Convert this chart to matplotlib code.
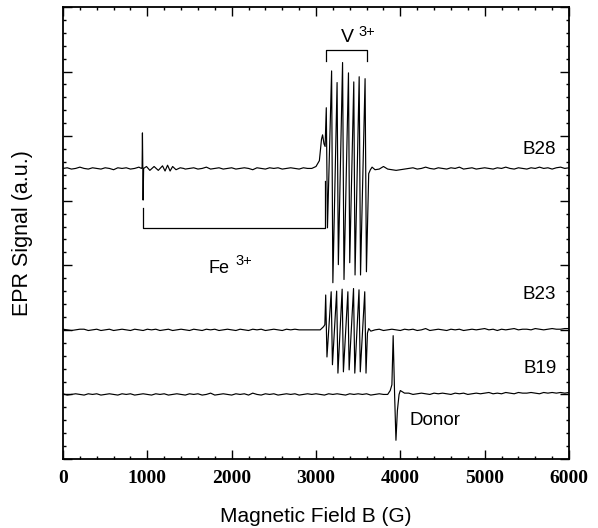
import numpy as np
import matplotlib
matplotlib.use('Agg')
import matplotlib.pyplot as plt
from matplotlib.ticker import MultipleLocator

# field grid for the noisy baselines (G), one value every 50 G
grid_step = 50

# B28 trace: baseline level and small noise offsets
b28_base = 4.5
b28_off = [0.00, 0.01, -0.01, 0.00, 0.02, 0.00, -0.01, 0.01, 0.00, -0.01,
           0.01, 0.00, -0.02, 0.01, 0.00, 0.01, -0.01, 0.00, 0.02, -0.01,
           0.00, 0.02, -0.01, 0.01, 0.00, -0.02, 0.01, 0.00, 0.01, -0.01,
           0.00, 0.01, -0.01, 0.00, 0.02, -0.01, 0.00, 0.01, -0.01, 0.00,
           0.01, -0.01, 0.00, 0.01, 0.00, -0.02, 0.01, 0.00, -0.01, 0.01,
           0.00, 0.01, -0.01, 0.00, 0.01, 0.00, -0.01, 0.01, 0.00, 0.01,
           0.00, 0.00, 0.00, 0.00, 0.00, 0.00, 0.00, 0.00, 0.00, 0.00,
           0.00, 0.00, 0.00, 0.00, -0.02, -0.01, 0.03, -0.01, -0.02, -0.03,
           -0.02, -0.01, 0.00, 0.01, -0.01, 0.00, 0.02, 0.00, -0.01, 0.01,
           0.00, -0.01, 0.01, 0.00, 0.02, -0.01, 0.00, 0.01, -0.01, 0.00,
           0.01, 0.00, -0.01, 0.01, 0.00, 0.02, 0.00, -0.01, 0.01, 0.00,
           -0.01, 0.01, 0.00, 0.02, 0.00, 0.01, -0.01, 0.01, 0.02, 0.00,
           0.01]
# Fe3+ line near 950 G
b28_fe_x = [930, 938, 942, 946, 950, 956, 990, 1030, 1080, 1130, 1180,
            1210, 1240, 1270, 1300, 1340, 1390, 1430]
b28_fe_y = [4.50, 4.52, 5.05, 4.48, 4.01, 4.50, 4.53, 4.47, 4.53, 4.47,
            4.54, 4.46, 4.55, 4.46, 4.53, 4.48, 4.51, 4.50]
# V3+ hyperfine comb
b28_v_x = [2950, 3000, 3040, 3065, 3078, 3095, 3108,
           3122, 3136, 3185, 3200, 3250, 3265, 3315, 3332,
           3385, 3400, 3448, 3463, 3512, 3528, 3582, 3598,
           3625, 3645, 3665]
b28_v_y = [4.50, 4.53, 4.62, 4.95, 5.02, 4.88, 4.84,
           5.44, 3.58, 6.01, 2.73, 5.83, 3.01, 6.14, 2.78,
           5.98, 3.04, 5.84, 2.85, 5.92, 2.85, 5.89, 2.90,
           4.42, 4.48, 4.52]

# B23 trace
b23_base = 2.0
b23_off = [0.01, 0.00, -0.01, 0.00, 0.01, 0.01, -0.01, 0.00, 0.01, -0.01,
           0.00, 0.01, -0.01, 0.00, 0.01, 0.00, -0.01, 0.01, 0.00, -0.01,
           0.01, 0.00, 0.01, -0.01, 0.00, 0.01, -0.01, 0.00, 0.01, 0.00,
           -0.01, 0.01, 0.00, -0.01, 0.01, 0.00, 0.01, -0.01, 0.00, 0.01,
           0.00, -0.01, 0.01, 0.00, -0.01, 0.01, 0.00, 0.01, -0.01, 0.00,
           0.01, 0.00, -0.01, 0.01, 0.00, 0.01, 0.00, 0.00, 0.00, 0.00,
           0.00, 0.00, 0.00, 0.00, 0.00, 0.00, 0.00, 0.00, 0.00, 0.00,
           0.00, 0.00, 0.00, 0.00, 0.00, 0.01, -0.01, 0.00, 0.01, 0.00,
           -0.01, 0.01, 0.00, 0.01, -0.01, 0.00, 0.02, -0.01, 0.00, 0.01,
           0.00, -0.01, 0.01, 0.00, 0.01, -0.01, 0.00, 0.01, 0.00, 0.01,
           0.02, 0.00, 0.01, -0.01, 0.01, 0.00, 0.01, 0.02, 0.00, 0.01,
           0.01, 0.00, 0.02, 0.01, 0.00, 0.01, 0.02, 0.01, 0.01, 0.02,
           0.02]
b23_v_x = [3050, 3090, 3105,
           3115, 3130, 3180, 3195, 3245, 3260, 3310, 3325,
           3378, 3393, 3445, 3460, 3510, 3525, 3578, 3593,
           3610, 3625, 3650, 3700]
b23_v_y = [2.00, 2.05, 2.08,
           2.54, 1.58, 2.59, 1.46, 2.60, 1.33, 2.63, 1.35,
           2.59, 1.38, 2.64, 1.33, 2.62, 1.35, 2.59, 1.33,
           1.95, 2.02, 1.98, 2.00]

# B19 trace
b19_base = 1.0
b19_off = [0.01, -0.01, 0.00, 0.01, 0.00, -0.01, 0.01, 0.00, 0.01, -0.01,
           0.00, 0.01, 0.00, -0.01, 0.01, 0.00, 0.01, -0.01, 0.00, 0.01,
           0.00, -0.01, 0.01, 0.00, 0.01, -0.01, 0.00, 0.01, 0.00, -0.01,
           0.01, 0.00, 0.01, -0.01, 0.00, 0.02, -0.01, 0.00, 0.01, 0.00,
           -0.01, 0.01, 0.00, 0.01, -0.01, 0.02, 0.00, -0.01, 0.01, 0.00,
           0.01, -0.01, 0.00, 0.01, 0.00, 0.01, -0.01, 0.00, 0.01, 0.00,
           0.01, 0.00, -0.01, 0.01, 0.00, 0.01, 0.00, -0.01, 0.01, 0.00,
           0.01, 0.00, 0.01, -0.01, 0.00, 0.01, 0.00, 0.01, 0.00, 0.00,
           0.00, 0.01, 0.02, 0.00, 0.01, 0.02, 0.01, 0.00, 0.02, 0.01,
           0.02, 0.01, 0.00, 0.02, 0.01, 0.02, 0.00, 0.01, 0.02, 0.01,
           0.02, 0.03, 0.01, 0.02, 0.01, 0.03, 0.02, 0.01, 0.03, 0.02,
           0.02, 0.03, 0.02, 0.01, 0.03, 0.02, 0.03, 0.02, 0.03, 0.02,
           0.03]
b19_don_x = [3850, 3880, 3900, 3915, 3932, 3948, 3965, 3985, 4000, 4050]
b19_don_y = [1.00, 1.06, 1.15, 1.91, 1.00, 0.29, 0.75, 1.00, 1.06, 1.02]


def build(base, offsets, segments):
    x = np.arange(0, 6001, grid_step)
    y = base + np.array(offsets)
    keep = np.ones(len(x), dtype=bool)
    for sx, sy in segments:
        keep &= ~((x >= min(sx)) & (x <= max(sx)))
    X = np.concatenate([x[keep]] + [np.array(sx) for sx, sy in segments])
    Y = np.concatenate([y[keep]] + [np.array(sy) for sx, sy in segments])
    order = np.argsort(X, kind='stable')
    return X[order], Y[order]


sans = 'Liberation Sans'

fig = plt.figure(figsize=(5.98, 5.28), dpi=100)
ax = fig.add_axes([63 / 598, 1 - 459 / 528, (569 - 63) / 598, (459 - 7) / 528])

for base, off, segs in [(b28_base, b28_off, [(b28_fe_x, b28_fe_y), (b28_v_x, b28_v_y)]),
                        (b23_base, b23_off, [(b23_v_x, b23_v_y)]),
                        (b19_base, b19_off, [(b19_don_x, b19_don_y)])]:
    X, Y = build(base, off, segs)
    ax.plot(X, Y, color='k', lw=0.85)

# brackets
ax.plot([947, 947, 3112, 3112], [3.88, 3.58, 3.58, 4.3], color='k', lw=0.9)
ax.plot([3120, 3120, 3605, 3605], [6.16, 6.34, 6.34, 6.16], color='k', lw=0.9)

ax.text(3375, 6.53, 'V', fontsize=14, family=sans, ha='center', va='center')
ax.text(3598, 6.62, '3+', fontsize=10.5, family=sans, ha='center', va='center')
ax.text(1852, 2.95, 'Fe', fontsize=13, family=sans, ha='center', va='center')
ax.text(2142, 3.07, '3+', fontsize=10.5, family=sans, ha='center', va='center')
ax.text(5850, 4.79, 'B28', fontsize=13.5, family=sans, ha='right', va='center')
ax.text(5850, 2.54, 'B23', fontsize=13.5, family=sans, ha='right', va='center')
ax.text(5850, 1.40, 'B19', fontsize=13.5, family=sans, ha='right', va='center')
ax.text(4107, 0.60, 'Donor', fontsize=13.5, family=sans, ha='left', va='center')

ax.set_xlim(0, 6000)
ax.set_ylim(0, 7)
ax.xaxis.set_major_locator(MultipleLocator(1000))
ax.xaxis.set_minor_locator(MultipleLocator(200))
ax.yaxis.set_major_locator(MultipleLocator(1))
ax.yaxis.set_minor_locator(MultipleLocator(0.2))
ax.tick_params(which='both', direction='in', top=True, right=True, width=1.0)
ax.tick_params(which='major', length=6.5)
ax.tick_params(which='minor', length=2.5)
ax.tick_params(axis='x', pad=8)
ax.set_yticklabels([])
for lab in ax.get_xticklabels():
    lab.set_fontfamily('Liberation Serif')
    lab.set_fontweight('bold')
    lab.set_fontsize(14)
for s in ax.spines.values():
    s.set_linewidth(1.3)

ax.set_xlabel('Magnetic Field B (G)', fontsize=15, family=sans, labelpad=14)
ax.set_ylabel('EPR Signal (a.u.)', fontsize=15.5, family=sans, labelpad=18)

fig.savefig('out.png', dpi=100)
